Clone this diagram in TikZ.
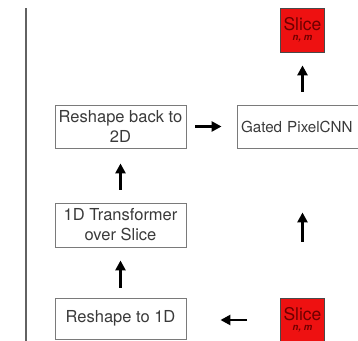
\documentclass[tikz,border=0pt]{standalone}
\usepackage{fontspec}
\setmainfont{TeX Gyre Heros}
\usetikzlibrary{arrows.meta}
\definecolor{boxline}{HTML}{7A7A7A}
\definecolor{txt}{HTML}{3A3A3A}
\definecolor{slicered}{HTML}{EE1111}
\definecolor{slicetxt}{HTML}{6E0000}
\tikzset{
  stage/.style={draw=boxline, line width=0.9pt, minimum width=131pt, inner sep=2pt,
    text=txt, font=\fontsize{16.5}{20}\selectfont, align=center},
  slice/.style={draw=boxline!60!black, line width=0.8pt, fill=slicered, minimum size=44pt,
    inner sep=0pt, align=center, text=slicetxt},
  flow/.style={line width=2.8pt, -{Triangle[length=10pt,width=10pt]}, black}
}
\begin{document}
\begin{tikzpicture}[x=1pt,y=-1pt]
  \useasboundingbox (0,0) rectangle (358,340);
  \clip (0,0) rectangle (358,340);
  % separator on the left
  \draw[boxline!80!black, line width=2pt] (25.5,8) -- (25.5,345);
  % processing stages
  \node[stage, minimum height=43pt] (back) at (120.5,126.5) {Reshape back to\\2D};
  \node[stage, minimum height=44pt] (trans) at (120.5,225) {1D Transformer\\over Slice};
  \node[stage, minimum height=41pt] (flat) at (120.5,318.5) {Reshape to 1D};
  \node[stage, minimum height=43pt, minimum width=150pt, text width=142pt, align=left,
        inner sep=3pt, font=\fontsize{15.2}{20}\selectfont] (gated) at (312,126.5) {Gated PixelCNN};
  % slices
  \node[slice] (out) at (302.5,30) {{\fontsize{17.5}{17}\selectfont Slice}\\[-2pt]{\fontsize{9.5}{9}\selectfont\itshape\bfseries n, m}};
  \node[slice] (in) at (302.5,320) {{\fontsize{17.5}{17}\selectfont Slice}\\[-2pt]{\fontsize{9.5}{9}\selectfont\itshape\bfseries n, m}};
  % connectors
  \draw[flow, shorten <=33pt, shorten >=34pt] (in.west) -- (flat.east |- in.west);
  \draw[flow, shorten <=10pt, shorten >=13pt] (flat.north) -- (trans.south);
  \draw[flow, shorten <=13pt, shorten >=15pt] (trans.north) -- (back.south);
  \draw[flow, shorten <=9pt, shorten >=15pt] (back.east) -- (gated.west |- back.east);
  \draw[flow, shorten <=13pt, shorten >=13pt] (out.south |- gated.north) -- (out.south);
  \draw[flow, shorten <=56pt, shorten >=64pt] (in.north) -- (in.north |- gated.south);
\end{tikzpicture}
\end{document}
